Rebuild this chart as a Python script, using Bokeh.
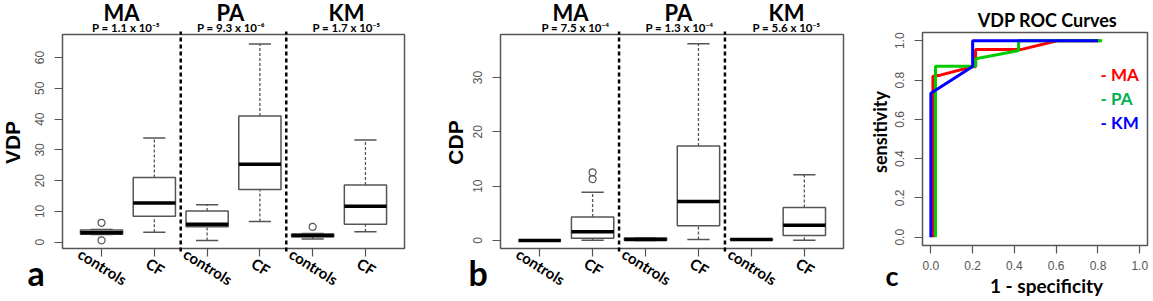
from bokeh.plotting import figure
from bokeh.layouts import row
from bokeh.models import Range1d, FixedTicker, Label, LinearAxis
from bokeh.embed import file_html
from bokeh.resources import INLINE

# ---------------- data ----------------
groups = ["MA", "PA", "KM"]
box_labels = ["controls", "CF", "controls", "CF", "controls", "CF"]
positions = [1, 2, 3, 4, 5, 6]
separators = [2.5, 4.5]

p_vdp = ["P = 1.1 x 10\u207b\u2075", "P = 9.3 x 10\u207b\u2076", "P = 1.7 x 10\u207b\u2075"]
p_cdp = ["P = 7.5 x 10\u207b\u2074", "P = 1.3 x 10\u207b\u2074", "P = 5.6 x 10\u207b\u2075"]

vdp_low = [2.5, 3.2, 0.55, 6.7, 1.0, 3.4]
vdp_q1 = [2.6, 8.45, 5.0, 17.1, 1.75, 5.85]
vdp_med = [3.1, 12.7, 5.85, 25.3, 2.2, 11.7]
vdp_q3 = [4.0, 21.0, 10.1, 41.0, 2.7, 18.6]
vdp_high = [4.1, 33.9, 12.2, 64.4, 2.8, 33.2]
vdp_out_x = [1, 1, 5]
vdp_out_y = [6.3, 0.6, 5.0]
vdp_ticks = [0, 10, 20, 30, 40, 50, 60]

cdp_low = [0.0, 0.05, 0.0, 0.2, 0.15, 0.05]
cdp_q1 = [0.0, 0.42, 0.05, 2.7, 0.15, 0.9]
cdp_med = [0.0, 1.6, 0.2, 7.2, 0.2, 2.8]
cdp_q3 = [0.0, 4.35, 0.45, 17.4, 0.25, 6.07]
cdp_high = [0.0, 8.9, 0.5, 36.2, 0.25, 12.1]
cdp_out_x = [2, 2]
cdp_out_y = [12.55, 11.3]
cdp_ticks = [0, 10, 20, 30]

roc_ma_fpr = [0.01, 0.01, 0.045, 0.198, 0.214, 0.214, 0.43, 0.605, 0.81]
roc_ma_tpr = [0.0, 0.82, 0.825, 0.868, 0.868, 0.955, 0.955, 1.0, 1.0]
roc_pa_fpr = [0.022, 0.022, 0.215, 0.215, 0.42, 0.42, 0.82]
roc_pa_tpr = [0.0, 0.87, 0.87, 0.908, 0.95, 1.0, 1.0]
roc_km_fpr = [0.0, 0.0, 0.198, 0.2, 0.2, 0.80]
roc_km_tpr = [0.0, 0.733, 0.868, 0.868, 1.0, 1.0]
roc_ticks = [0.0, 0.2, 0.4, 0.6, 0.8, 1.0]

# --------------- styles ---------------
GRAY = "#555555"
FONT = "Lato"
AXFONT = "Liberation Sans"
H = 301


class Panel:
    """A figure whose frame fills its canvas; the R-style plot box sits inside it."""

    def __init__(self, off, w, L, R, T, B, xr, yr, xticks, yticks, xlabels=None, ylabels=None):
        self.off, self.w = off, w
        sx = (xr[1] - xr[0]) / (R - L)
        sy = (yr[1] - yr[0]) / (B - T)
        self.sx, self.sy = sx, sy
        self.X0 = xr[0] - L * sx
        self.Y1 = yr[1] + T * sy
        X1 = xr[1] + (w - R) * sx
        Y0 = yr[0] - (H - B) * sy
        p = figure(width=w, height=H, output_backend="svg", toolbar_location=None,
                   x_range=Range1d(self.X0, X1), y_range=Range1d(Y0, self.Y1),
                   min_border=0, x_axis_location=None, y_axis_location=None,
                   background_fill_color="white", border_fill_color="white",
                   outline_line_color=None)
        p.grid.visible = False
        yax = LinearAxis(fixed_location=xr[0], ticker=FixedTicker(ticks=yticks))
        xax = LinearAxis(fixed_location=yr[0], ticker=FixedTicker(ticks=xticks))
        for ax in (xax, yax):
            ax.axis_line_color = None
            ax.major_tick_line_color = GRAY
            ax.major_tick_line_width = 1.2
            ax.major_tick_in = 0
            ax.major_tick_out = 8
            ax.minor_tick_line_color = None
            ax.major_label_text_font = AXFONT
            ax.major_label_text_font_size = "12px"
            ax.major_label_text_color = GRAY
        yax.major_label_orientation = "vertical"
        yax.major_label_standoff = 10
        xax.major_label_standoff = 7
        if xlabels is not None:
            xax.major_label_overrides = xlabels
        if ylabels is not None:
            yax.major_label_overrides = ylabels
        p.add_layout(yax, "left")
        p.add_layout(xax, "below")
        self.p = p
        self.xr, self.yr = xr, yr

    def ydata(self, Y):
        return self.Y1 - Y * self.sy

    def box(self):
        self.p.quad(left=self.xr[0], right=self.xr[1], bottom=self.yr[0], top=self.yr[1],
                    fill_color=None, line_color=GRAY, line_width=1.5)

    def text(self, X, Y, text, size, color="black", align="center", angle=0, font=FONT,
             xdata=None):
        # Y is the vertical middle of the text line in page pixels
        if xdata is None:
            kw = dict(x=X - self.off, x_units="canvas")
        else:
            kw = dict(x=xdata, x_units="data")
        self.p.add_layout(Label(y=self.ydata(Y), y_units="data", text=text,
                                text_font=font, text_font_style="bold",
                                text_font_size=size, text_color=color, text_align=align,
                                text_baseline="middle", angle=angle, angle_units="deg", **kw))


def box_panel(off, w, L, R, yr, low, q1, med, q3, high, out_x, out_y, yticks, ylab, ylab_x,
              pvals, title_x, pval_x, letter, letter_x):
    pn = Panel(off, w, L, R, 34, 248, (0.26, 6.74), yr, positions, yticks,
               xlabels={k: "" for k in positions})
    p = pn.p
    half = 0.4
    capw = 0.21
    p.segment(x0=positions, y0=low, x1=positions, y1=q1, line_color=GRAY,
              line_width=1.3, line_dash="3 2")
    p.segment(x0=positions, y0=q3, x1=positions, y1=high, line_color=GRAY,
              line_width=1.3, line_dash="3 2")
    p.segment(x0=[x - capw for x in positions], y0=low, x1=[x + capw for x in positions],
              y1=low, line_color=GRAY, line_width=1.5)
    p.segment(x0=[x - capw for x in positions], y0=high, x1=[x + capw for x in positions],
              y1=high, line_color=GRAY, line_width=1.5)
    p.vbar(x=positions, bottom=q1, top=q3, width=2 * half, fill_color="white",
           line_color=GRAY, line_width=1.5)
    p.segment(x0=[x - half for x in positions], y0=med, x1=[x + half for x in positions],
              y1=med, line_color="black", line_width=3.5)
    p.scatter(x=out_x, y=out_y, marker="circle", size=7, fill_color=None,
              line_color=GRAY, line_width=1.2)
    pn.box()
    p.segment(x0=separators, x1=separators, y0=[pn.ydata(251)] * 2, y1=[pn.ydata(31)] * 2,
              line_color="black", line_width=2.5, line_dash="4 3")

    for i, (grp, pv) in enumerate(zip(groups, pvals)):
        pn.text(title_x[i], 12, grp, "22px")
        pn.text(pval_x[i], 26.8, pv, "11.5px")

    for pos, lab in zip(positions, box_labels):
        pn.text(0, 266, lab, "15px", angle=-32, xdata=pos + 0.02)

    pn.text(ylab_x, 142, ylab, "21px", angle=90, font=AXFONT)
    pn.text(letter_x, 272, letter, "34px", align="left")
    return p


pa = box_panel(0, 440, 62, 404, (-2.05, 67.5), vdp_low, vdp_q1, vdp_med, vdp_q3, vdp_high,
               vdp_out_x, vdp_out_y, vdp_ticks, "VDP", 12, p_vdp,
               [121, 230, 346], [125.5, 230.5, 346], "a", 27)

pb = box_panel(440, 420, 60, 403, (-1.47, 37.92), cdp_low, cdp_q1, cdp_med, cdp_q3, cdp_high,
               cdp_out_x, cdp_out_y, cdp_ticks, "CDP", 455, p_cdp,
               [570, 678, 786], [575, 679, 786], "b", 468)

# ---------------- ROC panel ----------------
tick_text = {t: f"{t:.1f}" for t in roc_ticks}
pc_n = Panel(860, 293, 62, 287, 32, 245, (-0.04, 1.037), (-0.042, 1.042),
             roc_ticks, roc_ticks, xlabels=tick_text, ylabels=tick_text)
pc = pc_n.p
pc.line(roc_ma_fpr, roc_ma_tpr, line_color="#ff0000", line_width=3)
pc.line(roc_pa_fpr, roc_pa_tpr, line_color="#00cc00", line_width=3)
pc.line(roc_km_fpr, roc_km_tpr, line_color="#0000ff", line_width=3)
pc_n.box()

pc_n.text(1047, 19, "VDP ROC Curves", "18px")
pc_n.text(879, 131.5, "sensitivity", "18px", angle=90)
pc_n.text(1046, 284.6, "1 - specificity", "19px")
pc_n.text(885, 274.6, "c", "27px", align="left")
pc_n.text(1100, 74.1, "- MA", "17px", color="#ff0000", align="left")
pc_n.text(1100, 98.4, "- PA", "17px", color="#00b050", align="left")
pc_n.text(1100, 121.7, "- KM", "17px", color="#0000ff", align="left")

layout = row(pa, pb, pc)
open("out.html", "w").write(file_html(layout, INLINE))
